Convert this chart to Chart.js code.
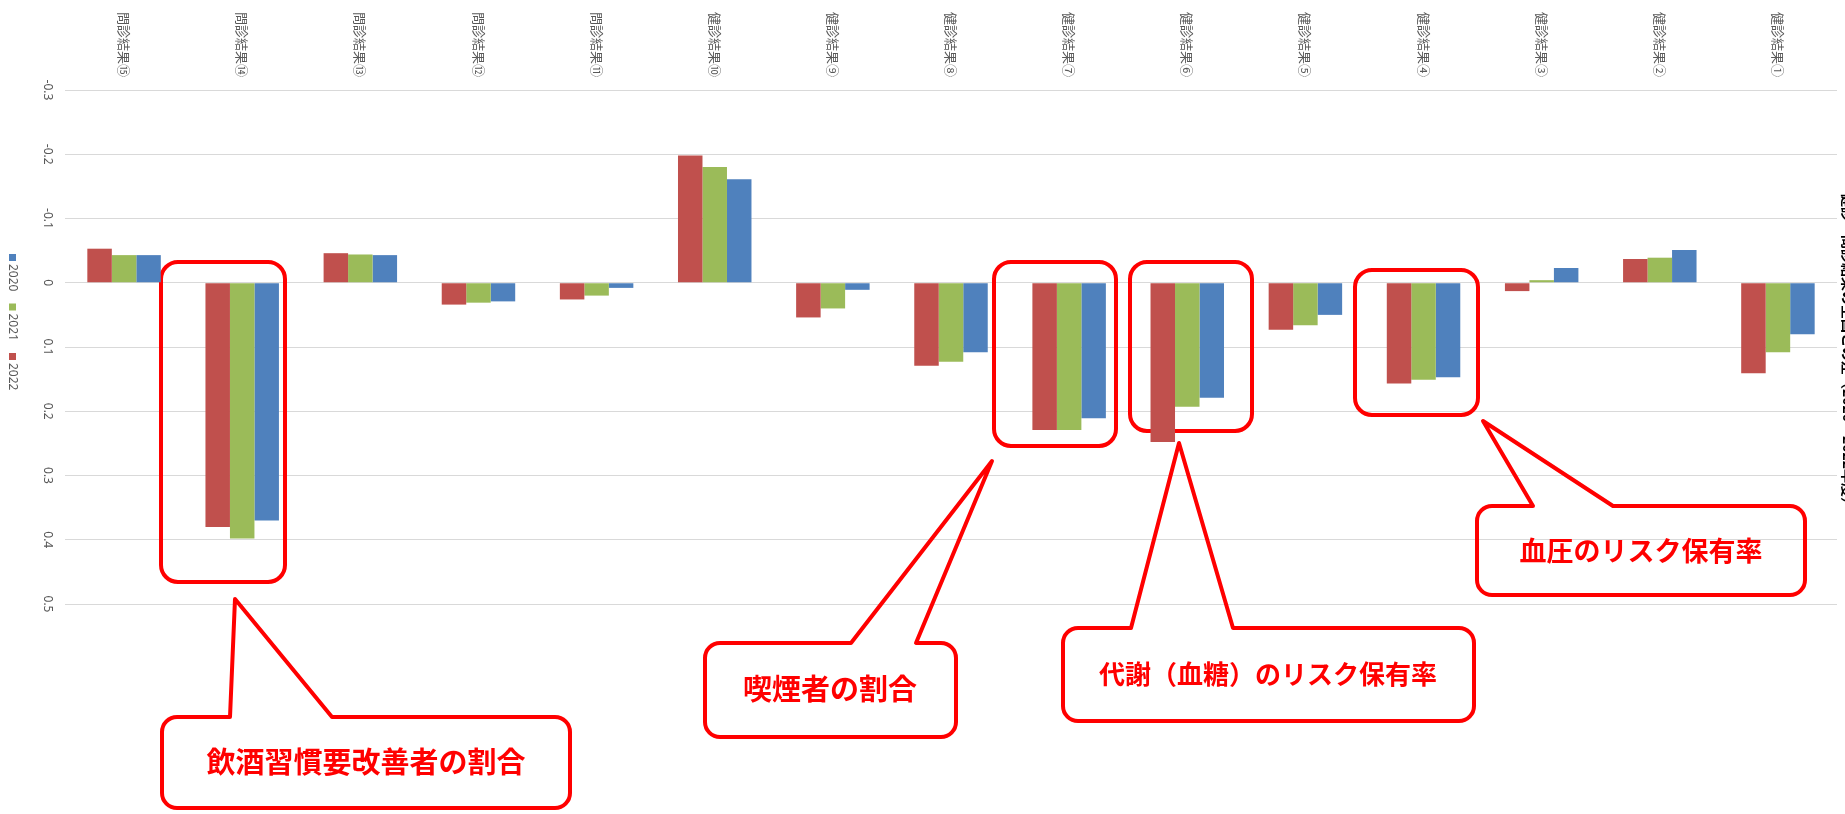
<!DOCTYPE html>
<html lang="ja">
<head>
<meta charset="utf-8">
<script src="https://cdn.jsdelivr.net/npm/chart.js@4"></script>
<style>
html,body{margin:0;padding:0;background:#fff;}
</style>
</head>
<body>
<canvas id="myChart" width="1845" height="814"></canvas>
<script>
const categories = ["問診結果⑮","問診結果⑭","問診結果⑬","問診結果⑫","問診結果⑪","健診結果⑩","健診結果⑨","健診結果⑧","健診結果⑦","健診結果⑥","健診結果⑤","健診結果④","健診結果③","健診結果②","健診結果①"];
const years = ["2022","2021","2020"];
const values2022 = [-0.053, 0.380, -0.046, 0.034, 0.026, -0.198, 0.054, 0.129, 0.229, 0.248, 0.073, 0.157, 0.013, -0.037, 0.141];
const values2021 = [-0.043, 0.398, -0.044, 0.031, 0.020, -0.180, 0.040, 0.123, 0.229, 0.193, 0.066, 0.151, -0.004, -0.039, 0.108];
const values2020 = [-0.043, 0.370, -0.043, 0.029, 0.008, -0.161, 0.011, 0.108, 0.211, 0.179, 0.050, 0.147, -0.023, -0.051, 0.080];
const yTickLabels = ["-0.3","-0.2","-0.1","0","0.1","0.2","0.3","0.4","0.5"];
const chartTitle = "健診・問診結果の全国との差（2020〜2022年度）";
const calloutTexts = ["飲酒習慣要改善者の割合","喫煙者の割合","代謝（血糖）のリスク保有率","血圧のリスク保有率"];

const barColors = ["#C0504D","#9BBB59","#4F81BD"];
const grayText = "#595959";

// red frames around bar groups (hand drawn in the original)
const frames = [
  {x1:161, y1:262, x2:285, y2:582},
  {x1:994, y1:262, x2:1116, y2:446},
  {x1:1130, y1:262, x2:1252, y2:431},
  {x1:1355, y1:270, x2:1478, y2:415}
];
// speech bubbles
const bubbles = [
  {x1:162, y1:717, x2:570, y2:808, apex:[235,599], base:[230,332], tx:366, ty:762, size:29},
  {x1:705, y1:643, x2:956, y2:737, apex:[992,461], base:[851,916], tx:830, ty:689, size:29},
  {x1:1063, y1:628, x2:1474, y2:721, apex:[1179,443], base:[1131,1233], tx:1268, ty:674, size:26},
  {x1:1477, y1:506, x2:1805, y2:595, apex:[1483,421], base:[1533,1613], tx:1641, ty:551, size:27}
];

function roundBox(ctx, b, r) {
  ctx.beginPath();
  ctx.moveTo(b.x1 + r, b.y1);
  if (b.apex) {
    ctx.lineTo(b.base[0], b.y1);
    ctx.lineTo(b.apex[0], b.apex[1]);
    ctx.lineTo(b.base[1], b.y1);
  }
  ctx.lineTo(b.x2 - r, b.y1);
  ctx.arcTo(b.x2, b.y1, b.x2, b.y1 + r, r);
  ctx.lineTo(b.x2, b.y2 - r);
  ctx.arcTo(b.x2, b.y2, b.x2 - r, b.y2, r);
  ctx.lineTo(b.x1 + r, b.y2);
  ctx.arcTo(b.x1, b.y2, b.x1, b.y2 - r, r);
  ctx.lineTo(b.x1, b.y1 + r);
  ctx.arcTo(b.x1, b.y1, b.x1 + r, b.y1, r);
  ctx.closePath();
}

function drawRotated(ctx, text, x, y, align) {
  ctx.save();
  ctx.translate(x, y);
  ctx.rotate(Math.PI / 2);
  ctx.textAlign = align;
  ctx.textBaseline = "middle";
  ctx.fillText(text, 0, 0);
  ctx.restore();
}

const sidewaysText = {
  id: "sidewaysText",
  afterDraw(chart) {
    const ctx = chart.ctx;
    const xs = chart.scales.x, ys = chart.scales.y;
    ctx.save();
    ctx.fillStyle = grayText;
    ctx.font = '13px "Noto Sans CJK JP"';
    categories.forEach(function (c, i) {
      drawRotated(ctx, c, xs.getPixelForValue(i), 12, "left");
    });
    ctx.font = '12px "Noto Sans"';
    yTickLabels.forEach(function (t) {
      drawRotated(ctx, t, 47, ys.getPixelForValue(parseFloat(t)), "center");
    });
    // legend, 2020 first
    var y = 254;
    for (let k = chart.data.datasets.length - 1; k >= 0; k--) {
      const ds = chart.data.datasets[k];
      ctx.fillStyle = ds.backgroundColor;
      ctx.fillRect(9, y, 7, 7);
      ctx.fillStyle = grayText;
      drawRotated(ctx, ds.label, 12.5, y + 10, "left");
      y += 49.5;
    }
    ctx.fillStyle = "#000";
    ctx.font = 'bold 14px "Noto Sans CJK JP"';
    drawRotated(ctx, chartTitle, 1848, 352, "center");
    ctx.restore();
  }
};

const redMarks = {
  id: "redMarks",
  beforeDatasetsDraw(chart) {
    const ctx = chart.ctx;
    ctx.save();
    ctx.strokeStyle = "#FF0000";
    ctx.lineWidth = 4;
    frames.forEach(function (f) { roundBox(ctx, f, 17); ctx.stroke(); });
    ctx.restore();
  },
  afterDraw(chart) {
    const ctx = chart.ctx;
    ctx.save();
    ctx.strokeStyle = "#FF0000";
    ctx.lineWidth = 4;
    ctx.lineJoin = "round";
    bubbles.forEach(function (b, i) {
      roundBox(ctx, b, 15);
      ctx.stroke();
      ctx.fillStyle = "#FF0000";
      ctx.font = 'bold ' + b.size + 'px "Noto Sans CJK JP"';
      ctx.textAlign = "center";
      ctx.textBaseline = "middle";
      ctx.fillText(calloutTexts[i], b.tx, b.ty);
    });
    ctx.restore();
  }
};

const seriesValues = [values2022, values2021, values2020];

new Chart("myChart", {
  type: "bar",
  data: {
    labels: categories,
    datasets: years.map(function (yr, k) {
      return { label: yr, data: seriesValues[k], backgroundColor: barColors[k], borderWidth: 0 };
    })
  },
  options: {
    responsive: false,
    animation: false,
    devicePixelRatio: 1,
    layout: { padding: { left: 65, right: 8, top: 90, bottom: 210 } },
    datasets: { bar: { categoryPercentage: 0.622, barPercentage: 1 } },
    plugins: {
      legend: { display: false },
      title: { display: false },
      tooltip: { enabled: false }
    },
    scales: {
      x: { display: false },
      y: {
        reverse: true,
        min: -0.3,
        max: 0.5,
        ticks: { display: false, stepSize: 0.1 },
        grid: { color: "#D9D9D9", lineWidth: 1, drawTicks: false },
        border: { display: false }
      }
    }
  },
  plugins: [redMarks, sidewaysText]
});
</script>
</body>
</html>
